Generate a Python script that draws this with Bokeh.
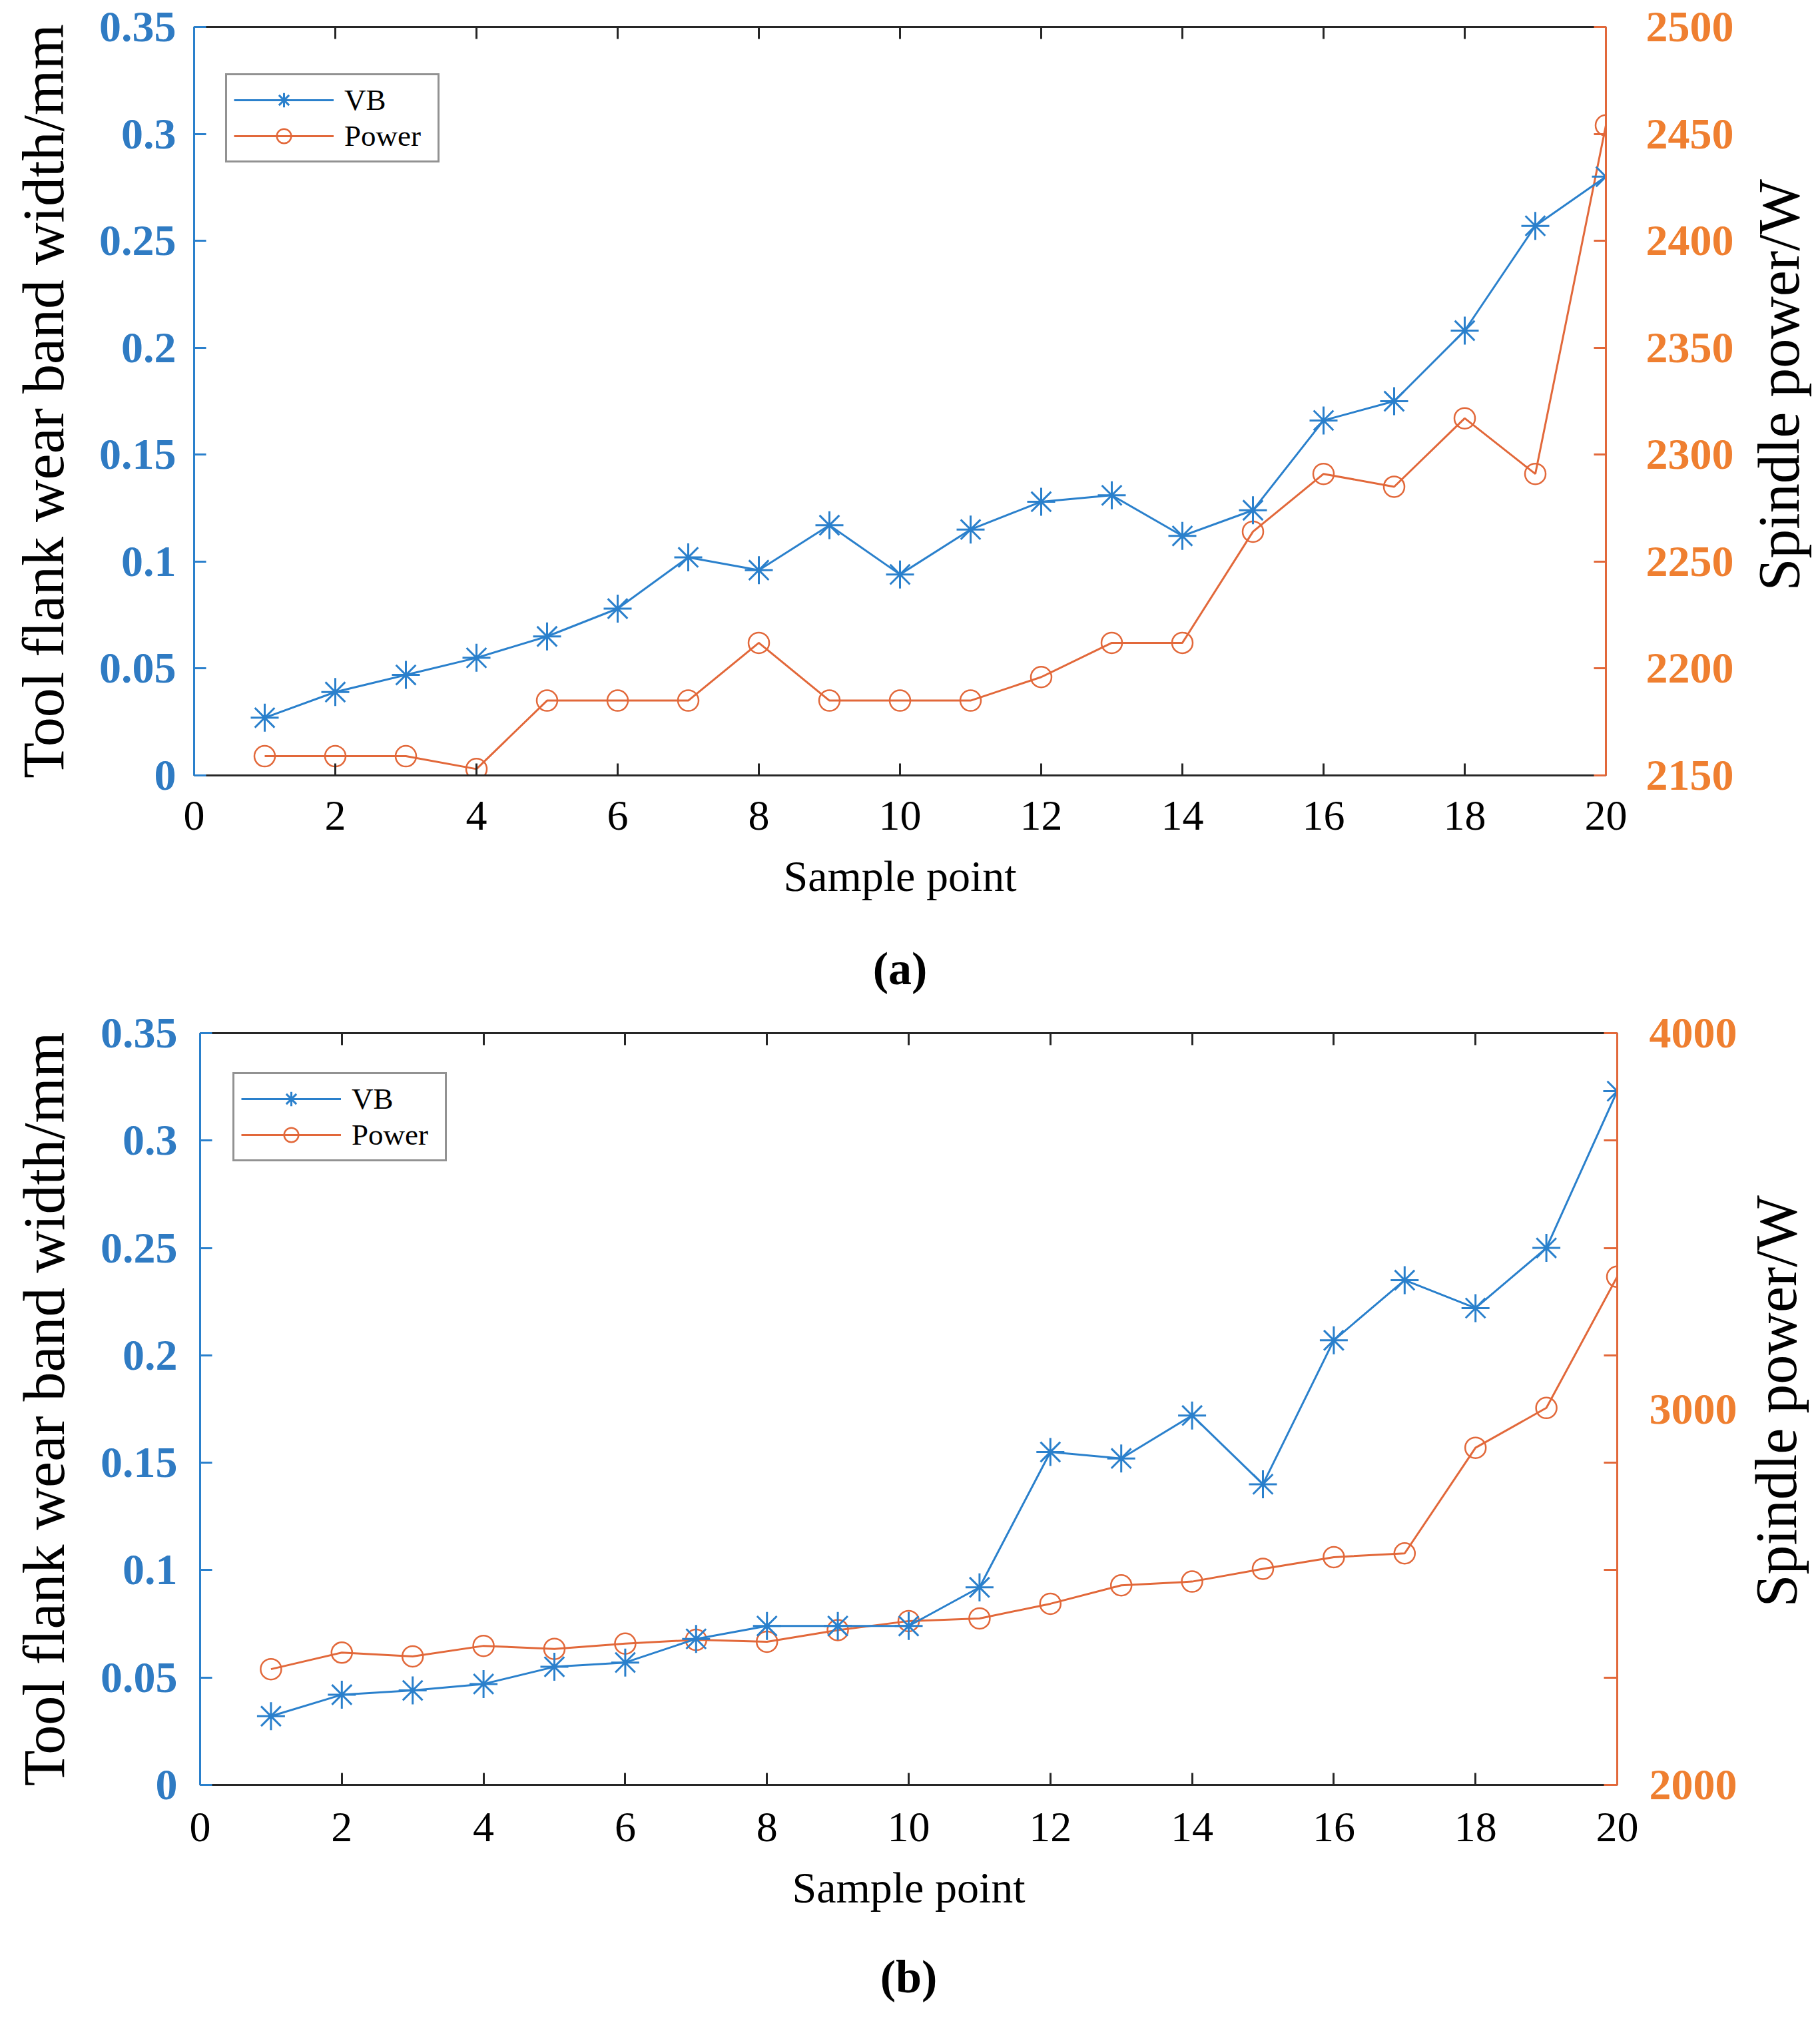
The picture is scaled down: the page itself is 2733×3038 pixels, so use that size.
import math
from bokeh.plotting import figure
from bokeh.models import Range1d, LinearAxis, FixedTicker, Legend, LegendItem, Label
from bokeh.layouts import column, row
from bokeh.embed import file_html
from bokeh.resources import INLINE

# ---------------- data ----------------
samples = list(range(1, 21))

vb_a = [0.027, 0.039, 0.047, 0.055, 0.065, 0.078, 0.102, 0.096, 0.117, 0.094,
        0.115, 0.128, 0.131, 0.112, 0.124, 0.166, 0.175, 0.208, 0.257, 0.280]
power_a = [2159, 2159, 2159, 2153, 2185, 2185, 2185, 2212, 2185, 2185,
           2185, 2196, 2212, 2212, 2264, 2291, 2285, 2317, 2291, 2454]

vb_b = [0.032, 0.042, 0.044, 0.047, 0.055, 0.057, 0.068, 0.074, 0.074, 0.074,
        0.092, 0.155, 0.152, 0.172, 0.140, 0.207, 0.235, 0.222, 0.250, 0.323]
power_b = [2308, 2352, 2342, 2370, 2362, 2376, 2386, 2381, 2412, 2436,
           2443, 2482, 2531, 2541, 2575, 2606, 2616, 2897, 3003, 3352]

x_ticks = [0, 2, 4, 6, 8, 10, 12, 14, 16, 18, 20]
vb_ticks = [0, 0.05, 0.1, 0.15, 0.2, 0.25, 0.3, 0.35]
vb_tick_labels = ["0", "0.05", "0.1", "0.15", "0.2", "0.25", "0.3", "0.35"]
power_ticks_a = [2150, 2200, 2250, 2300, 2350, 2400, 2450, 2500]
power_ticks_b = [2000, 3000, 4000]
power_minor_b = [2000, 2285.714, 2571.429, 2857.143, 3142.857, 3428.571, 3714.286, 4000]

x_title = "Sample point"
vb_title = "Tool flank wear band width/mm"
power_title = "Spindle power/W"

# ---------------- style ----------------
FONT = "Liberation Serif"
BLUE = "#2a80cc"
BLUE_TXT = "#2f7bc3"
ORANGE = "#e2683a"
ORANGE_TXT = "#ef7f30"
DARK = "#262626"

TOTAL_W = 2733
TITLE_W = 122


def make_panel(vb, power, prange, pticks, pminor, plabel, geo):
    p = figure(width=TOTAL_W - TITLE_W, height=geo["height"], x_range=Range1d(0, 20),
               y_range=Range1d(0, 0.35),
               output_backend="svg", toolbar_location=None,
               min_border_left=geo["left"], min_border_right=geo["right"],
               min_border_top=geo["top"], min_border_bottom=geo["bottom"])
    p.grid.visible = False
    p.outline_line_color = None
    p.background_fill_color = "white"
    p.border_fill_color = "white"
    p.extra_y_ranges = {"power": Range1d(*prange)}

    # left axis
    ax = p.yaxis[0]
    ax.ticker = FixedTicker(ticks=vb_ticks)
    ax.major_label_overrides = dict(zip(vb_ticks, vb_tick_labels))
    ax.axis_line_color = BLUE
    ax.axis_line_width = 3
    ax.major_tick_line_color = BLUE
    ax.major_tick_line_width = 3
    ax.major_tick_in = 18
    ax.major_tick_out = 0
    ax.minor_tick_line_color = None
    ax.major_label_text_color = BLUE_TXT
    ax.major_label_text_font = FONT
    ax.major_label_text_font_style = "bold"
    ax.major_label_text_font_size = "66px"
    ax.major_label_standoff = geo["lstand"]
    ax.axis_label = vb_title
    ax.axis_label_text_font = FONT
    ax.axis_label_text_font_style = "normal"
    ax.axis_label_text_font_size = "88px"
    ax.axis_label_text_color = "black"
    ax.axis_label_standoff = geo["ltitle"]

    # bottom axis
    bx = p.xaxis[0]
    bx.ticker = FixedTicker(ticks=x_ticks)
    bx.axis_line_color = DARK
    bx.axis_line_width = 3
    bx.major_tick_line_color = DARK
    bx.major_tick_line_width = 3
    bx.major_tick_in = 18
    bx.major_tick_out = 0
    bx.minor_tick_line_color = None
    bx.major_label_text_color = "black"
    bx.major_label_text_font = FONT
    bx.major_label_text_font_size = "64px"
    bx.major_label_standoff = geo["bstand"]
    bx.axis_label = x_title
    bx.axis_label_text_font = FONT
    bx.axis_label_text_font_style = "normal"
    bx.axis_label_text_font_size = "66px"
    bx.axis_label_text_color = "black"
    bx.axis_label_standoff = geo["btitle"]

    # panel caption "(a)" / "(b)" as a tickless axis label below
    cx = LinearAxis(ticker=FixedTicker(ticks=[]))
    cx.axis_line_color = None
    cx.major_tick_line_color = None
    cx.minor_tick_line_color = None
    cx.major_tick_out = 0
    cx.minor_tick_out = 0
    cx.major_label_standoff = 0
    cx.axis_label = plabel
    cx.axis_label_text_font = FONT
    cx.axis_label_text_font_style = "bold"
    cx.axis_label_text_font_size = "70px"
    cx.axis_label_text_color = "black"
    cx.axis_label_standoff = geo["cap"]
    p.add_layout(cx, "below")

    # top axis (ticks only)
    tx = LinearAxis(ticker=FixedTicker(ticks=[], minor_ticks=x_ticks))
    tx.axis_line_color = DARK
    tx.axis_line_width = 3
    tx.major_tick_line_color = None
    tx.minor_tick_line_color = DARK
    tx.minor_tick_line_width = 3
    tx.minor_tick_in = 18
    tx.minor_tick_out = 0
    tx.major_label_standoff = 0
    p.add_layout(tx, "above")

    # right axis
    rx = LinearAxis(y_range_name="power", ticker=FixedTicker(ticks=pticks, minor_ticks=pminor))
    rx.axis_line_color = ORANGE
    rx.axis_line_width = 3
    if pminor:
        rx.major_tick_line_color = None
        rx.major_tick_in = 0
        rx.major_tick_out = 0
        rx.minor_tick_line_color = ORANGE
        rx.minor_tick_line_width = 3
        rx.minor_tick_in = 20
        rx.minor_tick_out = 0
    else:
        rx.major_tick_line_color = ORANGE
        rx.major_tick_line_width = 3
        rx.major_tick_in = 18
        rx.major_tick_out = 0
        rx.minor_tick_line_color = None
    rx.major_label_text_color = ORANGE_TXT
    rx.major_label_text_font = FONT
    rx.major_label_text_font_style = "bold"
    rx.major_label_text_font_size = "66px"
    rx.major_label_standoff = geo["rstand"]
    p.add_layout(rx, "right")

    # data
    l2 = p.line(samples, power, line_color=ORANGE, line_width=3, y_range_name="power")
    s2 = p.scatter(samples, power, marker="circle", size=31, line_color=ORANGE,
                   fill_color=None, line_width=2.5, y_range_name="power")
    l1 = p.line(samples, vb, line_color=BLUE, line_width=3)
    s1 = p.scatter(samples, vb, marker="asterisk", size=42, line_color=BLUE, line_width=3)

    legend = Legend(items=[LegendItem(label="VB", renderers=[l1, s1]),
                           LegendItem(label="Power", renderers=[l2, s2])],
                    location=geo["legend"], orientation="vertical")
    legend.margin = 0
    legend.padding = 10
    legend.spacing = 0
    legend.glyph_width = 150
    legend.glyph_height = 54
    legend.label_height = 54
    legend.label_width = 130
    legend.label_standoff = 16
    legend.label_text_font = FONT
    legend.label_text_font_size = "45px"
    legend.label_text_color = "black"
    legend.border_line_color = DARK
    legend.border_line_width = 3
    legend.background_fill_color = "white"
    legend.background_fill_alpha = 1.0
    p.add_layout(legend)

    # narrow companion figure carrying the right-hand axis title (reads bottom-to-top)
    t = figure(width=TITLE_W, height=geo["height"], x_range=Range1d(0, TITLE_W),
               y_range=Range1d(0, 0.35), output_backend="svg", toolbar_location=None,
               title=None, min_border_left=0, min_border_right=0,
               min_border_top=geo["top"], min_border_bottom=geo["bottom"])
    t.axis.visible = False
    t.grid.visible = False
    t.outline_line_color = None
    t.background_fill_color = "white"
    t.border_fill_color = "white"
    t.add_layout(Label(x=geo["rtx"], y=geo["rty"], text=power_title, angle=math.pi / 2,
                       text_align="center", text_baseline="middle",
                       text_font=FONT, text_font_size="88px", text_color="black"))
    return row(p, t, spacing=0)


pa = make_panel(vb_a, power_a, (2150, 2500), power_ticks_a, [], "(a)",
                dict(height=1514, left=291, right=TOTAL_W - TITLE_W - 2411, top=40, bottom=350,
                     lstand=27, ltitle=32, bstand=39, btitle=30, cap=61,
                     rstand=60, rtx=60, rty=0.1825, legend=(47, 920)))
pb = make_panel(vb_b, power_b, (2000, 4000), power_ticks_b, power_minor_b, "(b)",
                dict(height=1524, left=300, right=TOTAL_W - TITLE_W - 2429, top=37, bottom=358,
                     lstand=34, ltitle=33, bstand=42, btitle=30, cap=56,
                     rstand=48, rtx=56, rty=0.1786, legend=(49, 936)))

layout = column(pa, pb, spacing=0)
open("out.html", "w").write(file_html(layout, INLINE))
